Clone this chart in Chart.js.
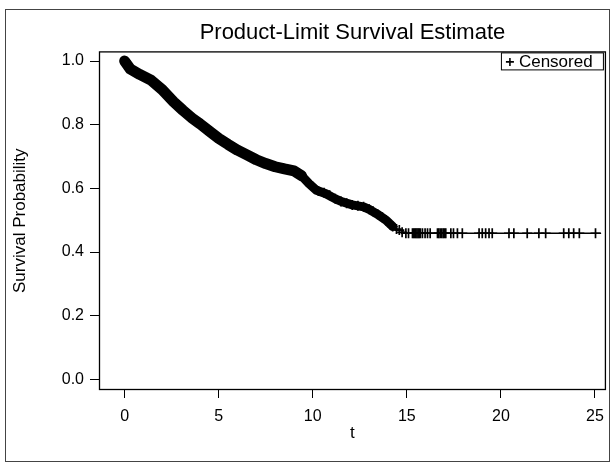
<!DOCTYPE html>
<html>
<head>
<meta charset="utf-8">
<title>Product-Limit Survival Estimate</title>
<script src="https://cdn.jsdelivr.net/npm/chart.js@4.4.0/dist/chart.umd.min.js"></script>
<style>
    body { margin: 0; background: #fff; }
    canvas { display: block; }
</style>
</head>
<body>
<canvas id="survivalChart" width="613" height="466"></canvas>
<script>
// Đường sống sót
const curveTime = [0, 0.3, 0.8, 1.4, 2.0, 2.6, 3.1, 3.6, 4.0, 4.5, 5.0, 5.5, 6.0, 6.5, 7.0, 7.5, 8.0, 8.5, 9.0, 9.4, 9.8,
    10.2, 10.7, 11.2, 11.6, 12.1, 12.7, 13.0, 13.4, 13.9, 14.25, 14.6, 15.0, 25.3];
const curveProb = [1.0, 0.975, 0.958, 0.94, 0.91, 0.872, 0.845, 0.82, 0.803, 0.78, 0.757, 0.738, 0.72, 0.705, 0.69, 0.678, 0.668, 0.661, 0.655, 0.64, 0.615,
    0.594, 0.583, 0.567, 0.557, 0.548, 0.542, 0.534, 0.52, 0.50, 0.48, 0.469, 0.459, 0.459];

// Các điểm bị kiểm duyệt (censored)
const censorTime = [0.05, 10.0, 10.3, 10.6, 10.9, 11.2, 11.5, 11.8, 12.1, 12.4, 12.7, 13.0, 13.2, 13.45, 13.7, 13.9, 14.1, 14.25, 14.45, 14.6, 14.75,
    14.95, 15.09, 15.3, 15.36, 15.42, 15.48, 15.54, 15.6, 15.66, 15.72, 15.83, 15.97, 16.1, 16.24,
    16.63, 16.7, 16.78, 16.86, 16.94, 17.0, 17.07, 17.34, 17.48, 17.69, 17.95,
    18.84, 19.01, 19.19, 19.37, 19.54, 20.43, 20.69, 21.4, 22.02, 22.38, 23.34, 23.61, 23.87, 24.17, 25.03];
const censorProb = [1.0, 0.605, 0.592, 0.586, 0.578, 0.567, 0.559, 0.553, 0.548, 0.545, 0.542, 0.534, 0.528, 0.519, 0.509, 0.50, 0.487, 0.48, 0.472, 0.469, 0.462,
    0.459, 0.459, 0.459, 0.459, 0.459, 0.459, 0.459, 0.459, 0.459, 0.459, 0.459, 0.459, 0.459, 0.459,
    0.459, 0.459, 0.459, 0.459, 0.459, 0.459, 0.459, 0.459, 0.459, 0.459, 0.459,
    0.459, 0.459, 0.459, 0.459, 0.459, 0.459, 0.459, 0.459, 0.459, 0.459, 0.459, 0.459, 0.459, 0.459, 0.459];

const xTicks = [0, 5, 10, 15, 20, 25];
const yTicks = [0, 0.2, 0.4, 0.6, 0.8, 1.0];

const FONT = "'Liberation Sans', Arial, sans-serif";

// Khung, viền vùng vẽ và chú thích
const framePlugin = {
    id: 'frame',
    beforeDraw(chart) {
        const ctx = chart.ctx;
        ctx.save();
        ctx.fillStyle = '#fff';
        ctx.fillRect(0, 0, chart.width, chart.height);
        ctx.restore();
    },
    afterDraw(chart) {
        const ctx = chart.ctx;
        const a = chart.chartArea;
        ctx.save();
        ctx.strokeStyle = '#000';
        ctx.lineWidth = 1.3;
        ctx.strokeRect(a.left + 0.5, a.top + 0.5, a.right - a.left - 1, a.bottom - a.top - 1);

        // viền ngoài
        ctx.lineWidth = 1;
        ctx.strokeStyle = '#444';
        ctx.strokeRect(5.5, 9.5, 604, 452);

        // chú thích "+ Censored"
        const bx = a.right - 105, by = a.top + 1;
        ctx.strokeStyle = '#000';
        ctx.strokeRect(bx + 0.5, by + 0.5, 102, 17);
        ctx.lineWidth = 1.6;
        ctx.beginPath();
        ctx.moveTo(bx + 5, by + 9.5); ctx.lineTo(bx + 13, by + 9.5);
        ctx.moveTo(bx + 9, by + 5.5); ctx.lineTo(bx + 9, by + 13.5);
        ctx.stroke();
        ctx.fillStyle = '#000';
        ctx.font = '17px ' + FONT;
        ctx.textBaseline = 'middle';
        ctx.fillText('Censored', bx + 18, by + 10);
        ctx.restore();
    }
};

const ctx = document.getElementById('survivalChart').getContext('2d');
const chart = new Chart(ctx, {
    type: 'line',
    data: {
        datasets: [
            {
                label: 'Survival',
                data: curveTime.map((t, i) => ({ x: t, y: curveProb[i] })),
                borderColor: '#000',
                borderWidth: 1.3,
                borderJoinStyle: 'round',
                borderCapStyle: 'round',
                pointRadius: 0,
                tension: 0,
                segment: {
                    // vùng kiểm duyệt dày đặc -> dải đen dày
                    borderWidth: c => c.p0.parsed.x < 9.4 ? 11 : (c.p0.parsed.x < 14.25 ? 9 : 1.3)
                }
            },
            {
                label: 'Censored',
                data: censorTime.map((t, i) => ({ x: t, y: censorProb[i] })),
                showLine: false,
                pointStyle: 'cross',
                pointRadius: 5,
                pointBorderWidth: 1.7,
                pointBorderColor: '#000',
                pointBackgroundColor: '#000'
            }
        ]
    },
    options: {
        responsive: false,
        animation: false,
        layout: { padding: { left: 0, right: 6, top: 0, bottom: 0 } },
        plugins: {
            legend: { display: false },
            tooltip: { enabled: false },
            title: {
                display: true,
                text: 'Product-Limit Survival Estimate',
                fullSize: false,
                color: '#000',
                font: { family: FONT, size: 22, weight: 'normal' },
                padding: { top: 20, bottom: 5 }
            }
        },
        scales: {
            x: {
                type: 'linear',
                min: -1.363,
                max: 25.583,
                afterBuildTicks: s => { s.ticks = xTicks.map(v => ({ value: v })); },
                afterFit: s => { s.height = 76; },
                border: { display: false },
                grid: { drawOnChartArea: false, drawTicks: true, tickLength: 8, color: '#000' },
                ticks: {
                    color: '#000',
                    padding: 9,
                    maxRotation: 0,
                    font: { family: FONT, size: 16 },
                    callback: v => String(v)
                },
                title: {
                    display: true,
                    text: 't',
                    color: '#000',
                    font: { family: FONT, size: 17 },
                    padding: { top: 0, bottom: 22 }
                }
            },
            y: {
                type: 'linear',
                min: -0.0336,
                max: 1.0304,
                afterBuildTicks: s => { s.ticks = yTicks.map(v => ({ value: v })); },
                afterFit: s => { s.width = 99; },
                border: { display: false },
                grid: { drawOnChartArea: false, drawTicks: true, tickLength: 9, color: '#000' },
                ticks: {
                    color: '#000',
                    padding: 6,
                    font: { family: FONT, size: 16 },
                    callback: v => v.toFixed(1)
                },
                title: {
                    display: true,
                    text: 'Survival Probability',
                    color: '#000',
                    font: { family: FONT, size: 17 },
                    padding: { top: 10, bottom: 0 }
                }
            }
        }
    },
    plugins: [framePlugin]
});
</script>
</body>
</html>
